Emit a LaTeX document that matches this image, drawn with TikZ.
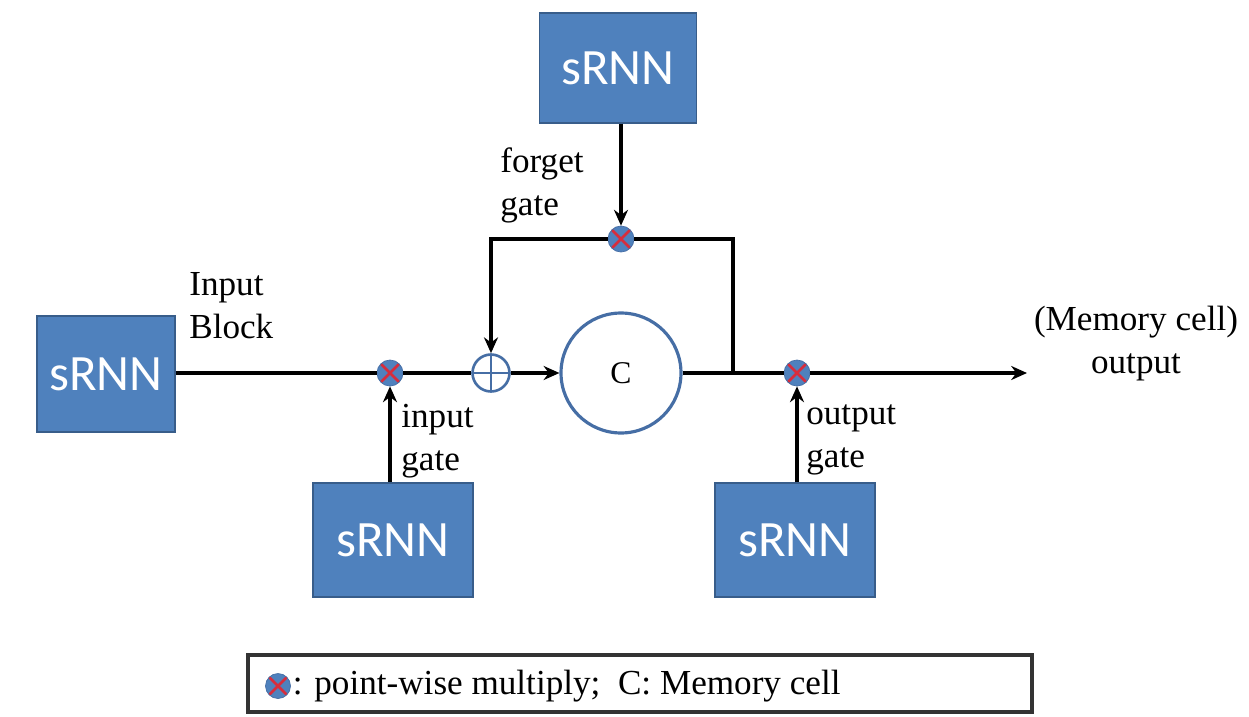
\documentclass[tikz,border=0pt]{standalone}
\usepackage{fontspec}
\setmainfont{Liberation Serif}
\newfontfamily\rnnfont{Carlito}
\usetikzlibrary{arrows.meta, positioning}
\definecolor{rnnfill}{RGB}{79,129,189}
\definecolor{rnnedge}{RGB}{56,93,138}
\definecolor{celledge}{RGB}{70,110,165}
\definecolor{mulred}{RGB}{215,45,60}

\begin{document}
\begin{tikzpicture}[
        x=0.02cm, y=-0.02cm,
        rnn/.style={draw=rnnedge, fill=rnnfill, line width=0.8pt, minimum width=3.2cm, minimum height=2.28cm, text=white, font=\rnnfont\fontsize{29}{34}\selectfont},
        mul/.style={circle, fill=rnnfill, draw=celledge, minimum size=0.52cm, inner sep=0pt,
            path picture={\draw[mulred, line width=1.5pt] (path picture bounding box.north west) -- (path picture bounding box.south east) (path picture bounding box.north east) -- (path picture bounding box.south west);}},
        add/.style={circle, draw=celledge, line width=1.5pt, minimum size=0.74cm, inner sep=0pt,
            path picture={\draw[celledge, line width=1.5pt] (path picture bounding box.north) -- (path picture bounding box.south) (path picture bounding box.west) -- (path picture bounding box.east);}},
        lbl/.style={align=left, font=\fontsize{20}{24.5}\selectfont, inner sep=0pt},
        line/.style={line width=2.2pt},
        arrow/.style={line width=2.2pt, -{Stealth[length=9pt, width=8pt]}}
    ]
        \useasboundingbox (0,0) rectangle (1249,717);
        % blocks
        \node[rnn, minimum width=2.76cm, minimum height=2.32cm] (rin) at (106,374) {sRNN};
        \node[rnn, minimum width=3.14cm, minimum height=2.2cm] (rfg) at (618,68) {sRNN};
        \node[rnn] (rig) at (393,540) {sRNN};
        \node[rnn] (rog) at (795,540) {sRNN};
        % gates and cell
        \node[mul] (mi) at (390,373) {};
        \node[add] (sum) at (491,373) {};
        \node[circle, draw=celledge, line width=1.8pt, minimum size=2.4cm, font=\fontsize{18}{21}\selectfont] (cell) at (621,373) {C};
        \node[mul] (mf) at (621,239) {};
        \node[mul] (mo) at (797,373) {};
        \coordinate (fb) at (733,373);
        \coordinate (out) at (1027,373);
        % labels
        \node[lbl, anchor=north west] (lin) at (189,272) {Input\\Block};
        \node[lbl, anchor=north west] (lfg) at (500,147) {forget\\gate};
        \node[lbl, anchor=north west] (lig) at (401,404) {input\\gate};
        \node[lbl, anchor=north west] (log) at (806,404) {output\\gate};
        \node[lbl, align=center, anchor=north] (lout) at (1136,306) {(Memory cell)\\output};
        % connections
        \draw[line] (rin.east |- mi) -- (mi) -- (sum);
        \draw[arrow] (sum) -- (cell);
        \draw[line] (cell) -- (mo);
        \draw[arrow] (mo) -- (out);
        \draw[line] (fb) |- (mf);
        \draw[arrow] (mf) -| (sum);
        \draw[arrow] (rfg.south -| mf) -- (mf);
        \draw[arrow] (rig.north -| mi) -- (mi);
        \draw[arrow] (rog.north -| mo) -- (mo);
        % legend
        \node[draw=black!80, line width=1.8pt, minimum width=15.68cm, minimum height=1.14cm] (legend) at (640,683.5) {};
        \node[mul, minimum size=0.5cm] (lmul) at (278,686) {};
        \node[anchor=west, inner sep=0pt, font=\fontsize{20}{24}\selectfont, right=1pt of lmul] (ltxt) {: point-wise multiply;\ \ C: Memory cell};
    \end{tikzpicture}
\end{document}
